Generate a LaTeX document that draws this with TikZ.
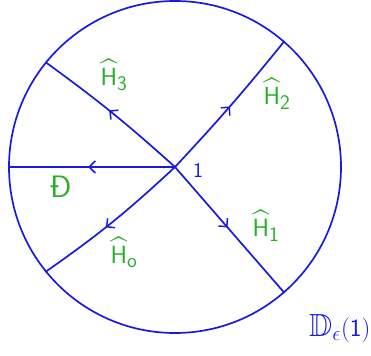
\documentclass[tikz,border=0pt]{standalone}
\usepackage{xcolor}
\usepackage{amsmath,amssymb}
\usepackage{tikz}
\usetikzlibrary{arrows.meta, decorations.markings, positioning}
\definecolor{myblue}{RGB}{25,25,225}
\definecolor{mygreen}{RGB}{40,175,40}
\tikzset{
  rim/.style={circle, draw=myblue, line width=1.7pt,
    minimum size=332pt, inner sep=0pt},
  ray/.style={line width=1.7pt, color=myblue, postaction={decorate},
    decoration={markings, mark=at position #1 with
      {\arrow{Straight Barb[length=6pt, width=12pt, line width=1.5pt]}}}},
  ray/.default=0.52,
  lbl/.style={text=mygreen, inner sep=0pt, font=\fontsize{31}{33}\selectfont},
  bluelbl/.style={text=myblue, inner sep=0pt}
}

\begin{document}
\begin{tikzpicture}[x=1pt, y=-1pt]
  \useasboundingbox (0,0) rectangle (371,355);

  % Disk
  \node[rim] (disk) at (175,167) {};
  \coordinate (o) at (disk.center);

  % Rays
  \draw[ray=0.52] (o) -- (disk.180);
  \draw[ray=0.52] (o) to[bend right=3] (disk.141);
  \draw[ray=0.49] (o) to[bend right=2] (disk.49);
  \draw[ray=0.48] (o) -- (disk.-49);
  \draw[ray=0.55] (o) to[bend left=4] (disk.219);

  % Labels
  \node[lbl] (h3) at (114,75) {$\widehat{\mathsf{H}}_{\mathsf{3}}$};
  \node[lbl] (h2) at (277,94) {$\widehat{\mathsf{H}}_{\mathsf{2}}$};
  \node[lbl] (h1) at (266,226) {$\widehat{\mathsf{H}}_{\mathsf{1}}$};
  \node[lbl] (h0) at (124,252) {$\widehat{\mathsf{H}}_{\mathsf{o}}$};
  \node[lbl] (dd) at (61,187) {\sffamily Đ};
  \node[bluelbl, font=\fontsize{21}{23}\selectfont] (one) at (198,170) {\sffamily 1};
  \node[bluelbl, anchor=west, font=\fontsize{32}{34}\selectfont] (de) at (309,329) {$\mathbb{D}_{\epsilon}(\mathsf{1})$};
\end{tikzpicture}
\end{document}
